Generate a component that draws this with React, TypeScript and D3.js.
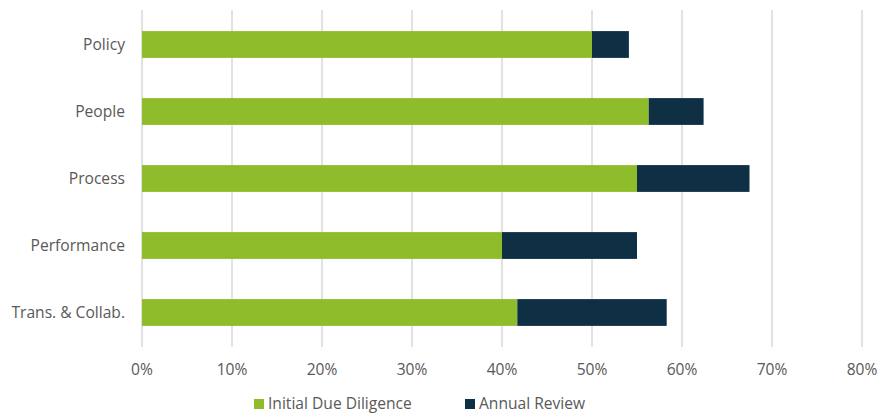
import * as d3 from 'd3';
import React from 'react';

const categories = ['Policy', 'People', 'Process', 'Performance', 'Trans. & Collab.'];
const initialDueDiligence = [0.50, 0.563, 0.55, 0.40, 0.417];
const annualReview = [0.041, 0.061, 0.125, 0.15, 0.166];
const seriesNames = ['Initial Due Diligence', 'Annual Review'];
const seriesColors = ['#8fbc2b', '#0e2f44'];
const xTicks = [0, 0.1, 0.2, 0.3, 0.4, 0.5, 0.6, 0.7, 0.8];

const W = 878, H = 415;
const margin = { top: 11, right: 16, bottom: 69, left: 142 };
const font = "'Open Sans', sans-serif";
const fs = 15.6;

export default function App() {
  const x = d3.scaleLinear().domain([0, 0.8]).range([margin.left, W - margin.right]);
  const y = d3.scaleBand().domain(categories).range([margin.top, H - margin.bottom]).paddingInner(0.6).paddingOuter(0.3);

  const rows = categories.map((c, i) => ({ key: c, vals: [initialDueDiligence[i], annualReview[i]] }));
  const stack = d3.stack<any>().keys(['0', '1']).value((d, k) => d.vals[+k]);
  const layers = stack(rows);

  const gridTop = margin.top - 1, gridBottom = H - margin.bottom + 1;

  return (
    <svg width={W} height={H} style={{ position: 'absolute', left: 0, top: 0, background: '#fff' }}>
      <g>
        {xTicks.map(t => (
          <line key={t} x1={x(t)} x2={x(t)} y1={gridTop} y2={gridBottom} stroke="#d9d9d9" strokeWidth={1.5} />
        ))}
      </g>
      {layers.map((layer, li) => (
        <g key={li} fill={seriesColors[li]}>
          {layer.map((d, i) => (
            <rect key={i} x={x(d[0])} y={y(categories[i])} width={x(d[1]) - x(d[0])} height={y.bandwidth()} />
          ))}
        </g>
      ))}
      <g fontFamily={font} fontSize={fs} fill="#595959">
        {categories.map(c => (
          <text key={c} x={margin.left - 17} y={y(c)! + y.bandwidth() / 2} dy="0.35em" textAnchor="end">{c}</text>
        ))}
        {xTicks.map(t => (
          <text key={t} x={x(t)} y={370} dy="0.35em" textAnchor="middle">{d3.format('.0%')(t)}</text>
        ))}
      </g>
      <g fontFamily={font} fontSize={fs} fill="#595959">
        {seriesNames.map((s, i) => {
          const lx = [254, 465][i];
          return (
            <g key={s} transform={`translate(${lx},404)`}>
              <rect x={0} y={-5} width={10} height={10} fill={seriesColors[i]} />
              <text x={14} y={0} dy="0.35em">{s}</text>
            </g>
          );
        })}
      </g>
    </svg>
  );
}
